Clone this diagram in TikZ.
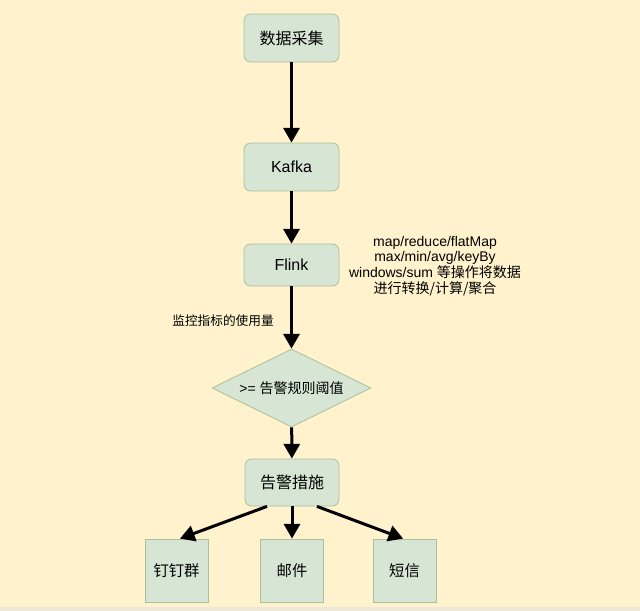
\documentclass[tikz,border=0pt]{standalone}
\usepackage{fontspec}
\setmainfont{Liberation Sans}
\newfontfamily\cjk{Noto Sans CJK SC}
\usetikzlibrary{arrows.meta,shapes.geometric}
\definecolor{bgyellow}{RGB}{255,242,204}
\definecolor{boxfill}{RGB}{214,229,212}
\definecolor{boxline}{RGB}{170,192,154}
\definecolor{stripgray}{RGB}{236,231,214}
\tikzset{
	step box/.style={draw=boxline, fill=boxfill, rounded corners=5pt, line width=0.6pt, font=\fontsize{12}{14}\selectfont},
	out box/.style={draw=boxline, fill=boxfill, line width=0.6pt, minimum width=47.25pt, minimum height=47.25pt, font=\fontsize{11.5}{14}\selectfont\cjk},
	flow arrow/.style={line width=2.25pt, -{Triangle[length=11pt,width=12pt]}}}
\tikzset{every picture/.style={line width=0.75pt}}
\begin{document}
\begin{tikzpicture}[x=0.75pt,y=0.75pt,yscale=-1,xscale=1]
	\useasboundingbox (0,0) rectangle (640,611);
	%Background
	\fill [bgyellow] (0,0) rectangle (640,611);
	\fill [stripgray] (0,607) rectangle (640,611);

	%Rounded Rect
	\node [step box, minimum width=71.25pt, minimum height=36pt] (collect) at (291.5,38) {\cjk 数据采集};
	%Rounded Rect
	\node [step box, minimum width=71.25pt, minimum height=36pt] (kafka) at (291.5,167) {Kafka};
	%Rounded Rect
	\node [step box, minimum width=71.25pt, minimum height=31.5pt] (flink) at (291.5,265) {Flink};
	%Diamond
	\node [draw=boxline, fill=boxfill, line width=0.6pt, shape=diamond, aspect=2, inner sep=0pt, minimum width=119.25pt, minimum height=58.5pt, font=\fontsize{10.5}{12}\selectfont] (rule) at (291.5,388) {>= {\cjk 告警规则阈值}};
	%Rounded Rect
	\node [step box, minimum width=70.5pt, minimum height=35.25pt] (alarm) at (292,482.5) {\cjk 告警措施};
	%Rects
	\node [out box] (ding) at (176.5,570.5) {钉钉群};
	\node [out box] (mail) at (292,570.5) {邮件};
	\node [out box] (sms) at (404.5,570.5) {短信};

	%Text
	\node [align=center, font=\fontsize{10.5}{11.8}\selectfont] (ops) at (435,266) {map/reduce/flatMap\\max/min/avg/keyBy\\windows/sum {\cjk 等操作将数据}\\{\cjk 进行转换/计算/聚合}};
	\node [font=\fontsize{9.5}{11}\selectfont\cjk] (usage) at (223,321) {监控指标的使用量};

	%Straight Lines
	\draw [flow arrow] (collect) -- (kafka);
	\draw [flow arrow] (kafka) -- (flink);
	\draw [flow arrow] (flink) -- (rule);
	\draw [flow arrow] (rule) -- (alarm);
	\draw [flow arrow] ([xshift=-18.75pt]alarm.south) -- ([xshift=2.6pt]ding.north);
	\draw [flow arrow] (alarm) -- (mail);
	\draw [flow arrow] ([xshift=18.75pt]alarm.south) -- ([xshift=-1pt]sms.north);

\end{tikzpicture}
\end{document}
